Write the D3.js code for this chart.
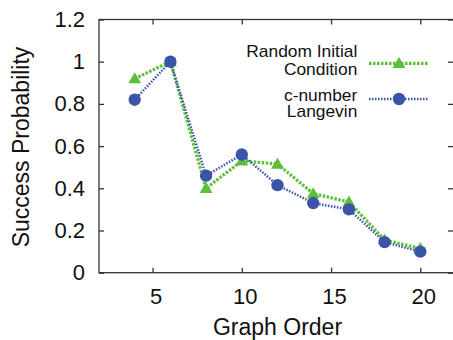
<!DOCTYPE html>
<html>
<head>
<meta charset="utf-8">
<script src="https://cdn.jsdelivr.net/npm/d3@7"></script>
<style>
  body { margin: 0; background: #fff; }
  text { font-family: "Liberation Sans", Arial, sans-serif; fill: #111; }
</style>
</head>
<body>
<script>
const width = 453, height = 340;

const graphOrder = [4, 6, 8, 10, 12, 14, 16, 18, 20];
const randomInitial = [0.92, 1.0, 0.40, 0.53, 0.515, 0.375, 0.335, 0.155, 0.115];
const cNumber = [0.82, 1.0, 0.46, 0.56, 0.415, 0.33, 0.30, 0.145, 0.10];
const xTicks = [5, 10, 15, 20];
const yTicks = [0, 0.2, 0.4, 0.6, 0.8, 1, 1.2];
const seriesNames = [["Random Initial", "Condition"], ["c-number", "Langevin"]];

const series = [
    { name: seriesNames[0], values: randomInitial, color: "#5cbf3c", dash: "2.5,1.5", sw: 3.2, marker: "triangle" },
    { name: seriesNames[1], values: cNumber, color: "#3a55a8", dash: "1.5,1.5", sw: 2.5, marker: "circle" }
];

const margin = { left: 99, top: 19.5, right: 456, bottom: 272.7 };

const svg = d3.select("body").append("svg")
    .attr("width", width)
    .attr("height", height);

const x = d3.scaleLinear().domain([2, 22]).range([margin.left, margin.right]);
const y = d3.scaleLinear().domain([0, 1.2]).range([margin.bottom, margin.top]);

// frame
svg.append("rect")
    .attr("x", margin.left)
    .attr("y", margin.top)
    .attr("width", margin.right - margin.left)
    .attr("height", margin.bottom - margin.top)
    .attr("fill", "none")
    .attr("stroke", "#333")
    .attr("stroke-width", 1.3);

// ticks, pointing inward on all four sides
const tickLen = 5;
const fmt = d => String(+d.toFixed(1));

svg.append("g")
    .attr("transform", `translate(0,${margin.bottom})`)
    .call(d3.axisBottom(x).tickValues(xTicks).tickSizeInner(-tickLen).tickSizeOuter(0).tickPadding(15.5))
    .call(g => g.select(".domain").remove())
    .call(g => g.selectAll("line").attr("stroke", "#333").attr("stroke-width", 1.3))
    .call(g => g.selectAll("text").attr("dx", 3).attr("font-size", 22).attr("font-family", "Liberation Sans, Arial, sans-serif").attr("fill", "#111"));

svg.append("g")
    .attr("transform", `translate(0,${margin.top})`)
    .call(d3.axisTop(x).tickValues(xTicks).tickSizeInner(-tickLen).tickSizeOuter(0).tickFormat(""))
    .call(g => g.select(".domain").remove())
    .call(g => g.selectAll("line").attr("stroke", "#333").attr("stroke-width", 1.3));

svg.append("g")
    .attr("transform", `translate(${margin.left},0)`)
    .call(d3.axisLeft(y).tickValues(yTicks).tickFormat(fmt).tickSizeInner(-tickLen).tickSizeOuter(0).tickPadding(14))
    .call(g => g.select(".domain").remove())
    .call(g => g.selectAll("line").attr("stroke", "#333").attr("stroke-width", 1.3))
    .call(g => g.selectAll("text").attr("font-size", 22).attr("font-family", "Liberation Sans, Arial, sans-serif").attr("fill", "#111"));

svg.append("g")
    .attr("transform", `translate(${margin.right - 3},0)`)
    .call(d3.axisRight(y).tickValues(yTicks).tickSizeInner(-tickLen).tickSizeOuter(0).tickFormat(""))
    .call(g => g.select(".domain").remove())
    .call(g => g.selectAll("line").attr("stroke", "#333").attr("stroke-width", 1.3));

// axis titles
svg.append("text")
    .attr("x", 277.5)
    .attr("y", 335)
    .attr("text-anchor", "middle")
    .attr("font-size", 23)
    .text("Graph Order");

svg.append("text")
    .attr("transform", "translate(29,147) rotate(-90)")
    .attr("text-anchor", "middle")
    .attr("font-size", 23)
    .text("Success Probability");

// series
const line = d3.line()
    .x((d, i) => x(graphOrder[i]))
    .y(d => y(d));

const triangle = d3.symbol().type(d3.symbolTriangle).size(72);

function drawMarker(g, s, cx, cy) {
    if (s.marker === "circle") {
        g.append("circle")
            .attr("cx", cx).attr("cy", cy).attr("r", 6.2)
            .attr("fill", s.color);
    } else {
        g.append("path")
            .attr("d", triangle())
            .attr("transform", `translate(${cx},${cy + 1})`)
            .attr("fill", s.color);
    }
}

series.forEach(s => {
    const g = svg.append("g");
    g.append("path")
        .datum(s.values)
        .attr("d", line)
        .attr("fill", "none")
        .attr("stroke", s.color)
        .attr("stroke-width", s.sw)
        .attr("stroke-dasharray", s.dash);
    s.values.forEach((v, i) => drawMarker(g, s, x(graphOrder[i]), y(v)));
});

// legend
const legendLineY = [63.3, 99];
const legendTextY = [[57.3, 75], [100.7, 117.3]];
series.forEach((s, i) => {
    const g = svg.append("g");
    const ly = legendLineY[i];
    s.name.forEach((t, k) => {
        g.append("text")
            .attr("transform", `translate(357.3,${legendTextY[i][k]}) scale(1.1,1)`)
            .attr("text-anchor", "end")
            .attr("font-size", 15.8)
            .text(t);
    });
    g.append("line")
        .attr("x1", 369).attr("x2", 428)
        .attr("y1", ly).attr("y2", ly)
        .attr("stroke", s.color)
        .attr("stroke-width", s.sw)
        .attr("stroke-dasharray", s.dash);
    drawMarker(g, s, 399, ly);
});
</script>
</body>
</html>
